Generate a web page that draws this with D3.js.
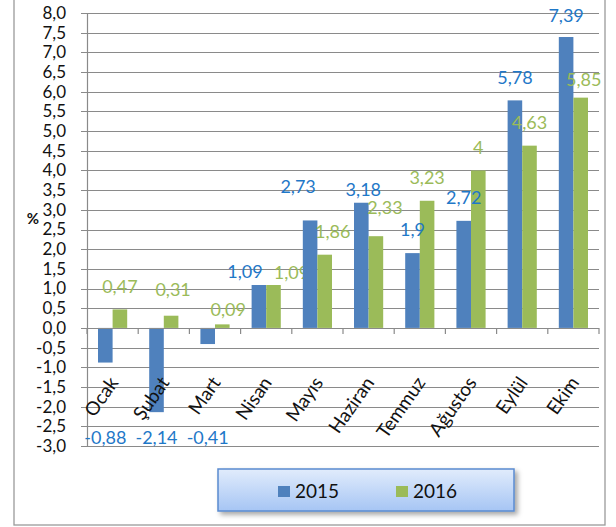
<!DOCTYPE html>
<html>
<head>
<meta charset="utf-8">
<script src="https://cdn.jsdelivr.net/npm/d3@7"></script>
<style>
  html, body { margin: 0; padding: 0; background: #fff; }
  svg { display: block; font-family: Lato, 'Open Sans', sans-serif; }
</style>
</head>
<body>
<svg id="chart" width="616" height="527"></svg>
<script>
const months = ['Ocak', 'Şubat', 'Mart', 'Nisan', 'Mayıs', 'Haziran', 'Temmuz', 'Ağustos', 'Eylül', 'Ekim'];
const seriesNames = ['2015', '2016'];
const values2015 = [-0.88, -2.14, -0.41, 1.09, 2.73, 3.18, 1.9, 2.72, 5.78, 7.39];
const values2016 = [0.47, 0.31, 0.09, 1.09, 1.86, 2.33, 3.23, 4, 4.63, 5.85];
const yTicks = d3.range(-3, 8.01, 0.5);

// hand-placed labels in the original (pixel nudges from the default spot)
const labelNudge = {
  '2015|Nisan': [-14, 10], '2015|Mayıs': [-12, -11], '2015|Haziran': [2, 10], '2015|Ekim': [0, 2],
  '2016|Şubat': [2, -3], '2016|Mart': [6, 8], '2016|Nisan': [18, 11], '2016|Mayıs': [8, 0],
  '2016|Haziran': [9, -5], '2016|Ekim': [3, 5],
};

const colors = { '2015': '#4f81bd', '2016': '#9bbb59' };
const labelColors = { '2015': '#1f78c8', '2016': '#9bbb59' };

const svg = d3.select('#chart');
const plotLeft = 87, plotRight = 599, plotTop = 13, plotBottom = 446;

const y = d3.scaleLinear().domain([-3, 8]).range([plotBottom, plotTop]);
const x0 = d3.scaleBand().domain(months).range([plotLeft, plotRight]).paddingInner(0.43).paddingOuter(0.215);
const x1 = d3.scaleBand().domain(seriesNames).range([0, x0.bandwidth()]);
const step = x0.step();

// outer border
svg.append('rect')
  .attr('x', 14).attr('y', -4).attr('width', 591).attr('height', 529)
  .attr('fill', 'none').attr('stroke', '#9a9a9a').attr('stroke-width', 1.3);

// gridlines
svg.append('g')
  .selectAll('line')
  .data(yTicks)
  .join('line')
  .attr('x1', plotLeft - 6).attr('x2', plotRight)
  .attr('y1', (d) => Math.round(y(d)) + 0.5).attr('y2', (d) => Math.round(y(d)) + 0.5)
  .attr('stroke', '#8a8a8a').attr('stroke-width', 1.2);

// y axis line
svg.append('line')
  .attr('x1', plotLeft + 0.5).attr('x2', plotLeft + 0.5)
  .attr('y1', plotTop).attr('y2', plotBottom + 1)
  .attr('stroke', '#8a8a8a').attr('stroke-width', 1.2);

// y tick labels
svg.append('g')
  .selectAll('text')
  .data(yTicks)
  .join('text')
  .attr('x', 66).attr('y', (d) => y(d))
  .attr('dy', '0.35em')
  .attr('text-anchor', 'end')
  .attr('font-size', 17)
  .attr('fill', '#111')
  .text((d) => d.toFixed(1).replace('.', ','));

svg.append('text')
  .attr('x', 33).attr('y', 219)
  .attr('dy', '0.35em')
  .attr('text-anchor', 'middle')
  .attr('font-size', 15).attr('font-weight', 'bold')
  .attr('fill', '#111')
  .text('%');

// category ticks below zero line
svg.append('g')
  .selectAll('line')
  .data(d3.range(months.length + 1))
  .join('line')
  .attr('x1', (i) => plotLeft + i * step).attr('x2', (i) => plotLeft + i * step)
  .attr('y1', y(0)).attr('y2', y(0) + 6)
  .attr('stroke', '#8a8a8a').attr('stroke-width', 1.2);

// bars
const rows = months.map((m, i) => ({ month: m, vals: [
  { series: '2015', value: values2015[i] },
  { series: '2016', value: values2016[i] },
] }));

const groups = svg.append('g')
  .selectAll('g')
  .data(rows)
  .join('g')
  .attr('transform', (d) => `translate(${x0(d.month)},0)`);

groups.selectAll('rect')
  .data((d) => d.vals)
  .join('rect')
  .attr('x', (d) => x1(d.series))
  .attr('width', x1.bandwidth())
  .attr('y', (d) => y(Math.max(0, d.value)))
  .attr('height', (d) => Math.abs(y(d.value) - y(0)))
  .attr('fill', (d) => colors[d.series]);

// zero line on top of bars
svg.append('line')
  .attr('x1', plotLeft).attr('x2', plotRight)
  .attr('y1', Math.round(y(0)) + 0.5).attr('y2', Math.round(y(0)) + 0.5)
  .attr('stroke', '#8a8a8a').attr('stroke-width', 1.2);

// data labels
groups.selectAll('text')
  .data((d) => d.vals.map((v) => ({ ...v, month: d.month })))
  .join('text')
  .attr('x', (d) => {
    const n = labelNudge[`${d.series}|${d.month}`] || [0, 0];
    return x1(d.series) + x1.bandwidth() / 2 + n[0];
  })
  .attr('y', (d) => {
    const n = labelNudge[`${d.series}|${d.month}`] || [0, 0];
    const base = d.value < 0 ? y(-3) - 8 : y(d.value) - 23;
    return base + n[1];
  })
  .attr('dy', '0.35em')
  .attr('text-anchor', 'middle')
  .attr('font-size', 18)
  .attr('fill', (d) => labelColors[d.series])
  .text((d) => String(d.value).replace('.', ','));

// category labels
svg.append('g')
  .selectAll('text')
  .data(months)
  .join('text')
  .attr('transform', (d) => `translate(${x0(d) + x0.bandwidth() / 2 + 1},${y(0) + 51}) rotate(-55)`)
  .attr('dy', '0.35em')
  .attr('text-anchor', 'end')
  .attr('font-size', 19)
  .attr('fill', '#111')
  .text((d) => d);

// legend
const defs = svg.append('defs');
const grad = defs.append('linearGradient').attr('id', 'lg').attr('x1', 0).attr('x2', 0).attr('y1', 0).attr('y2', 1);
grad.append('stop').attr('offset', '0%').attr('stop-color', '#e1ecfc');
grad.append('stop').attr('offset', '100%').attr('stop-color', '#a6c5f4');
const shadow = defs.append('filter').attr('id', 'sh').attr('x', '-10%').attr('y', '-30%').attr('width', '130%').attr('height', '180%');
shadow.append('feDropShadow').attr('dx', 3).attr('dy', 3).attr('stdDeviation', 2.5)
  .attr('flood-color', '#000').attr('flood-opacity', 0.35);

const legend = svg.append('g').attr('transform', 'translate(218,469)');
legend.append('rect')
  .attr('width', 296).attr('height', 42)
  .attr('fill', 'url(#lg)')
  .attr('stroke', '#5a8ad0').attr('stroke-width', 1.5)
  .attr('filter', 'url(#sh)');

const legendX = d3.scalePoint().domain(seriesNames).range([60, 178]);
const item = legend.selectAll('g')
  .data(seriesNames)
  .join('g')
  .attr('transform', (d) => `translate(${legendX(d)},0)`);
item.append('rect')
  .attr('x', 0).attr('y', 17).attr('width', 12).attr('height', 11)
  .attr('fill', (d) => colors[d]);
item.append('text')
  .attr('x', 17).attr('y', 22)
  .attr('dy', '0.35em')
  .attr('font-size', 19)
  .attr('fill', '#111')
  .text((d) => d);
</script>
</body>
</html>
